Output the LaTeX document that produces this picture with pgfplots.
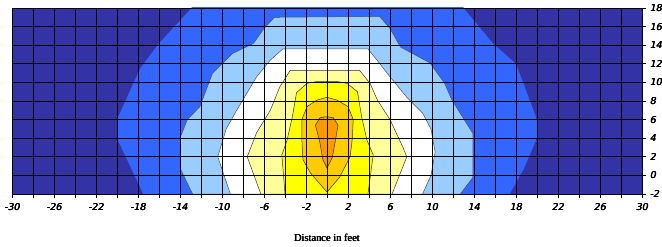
\documentclass[border=0pt]{standalone}
\usepackage{fontspec}
\usepackage{pgfplots}
\pgfplotsset{compat=1.18}
\newfontfamily\tickfont{DejaVu Sans}[FakeSlant=0.2]
\newfontfamily\titlefont{Liberation Serif}
\newcommand\fb[1]{\leavevmode\rlap{#1}\rlap{\kern0.25pt#1}\hbox{\kern0.5pt#1}}
\definecolor{navy}{RGB}{51,51,166}
\definecolor{cblue}{RGB}{51,102,255}
\definecolor{lblue}{RGB}{153,204,255}
\definecolor{lyel}{RGB}{255,255,153}
\definecolor{cyel}{RGB}{255,255,0}
\definecolor{gold}{RGB}{255,204,0}
\definecolor{corange}{RGB}{255,153,0}
\begin{document}
\begin{tikzpicture}
\begin{axis}[
  at={(0,0)}, anchor=south west,
  scale only axis, width=630bp, height=186bp,
  xmin=-30, xmax=30, ymin=-2, ymax=18,
  enlargelimits=false,
  axis on top,
  axis background/.style={fill=navy},
  xtick={-30,-26,...,30},
  xticklabels={\fb{-30},\fb{-26},\fb{-22},\fb{-18},\fb{-14},\fb{-10},\fb{-6},\fb{-2},\fb{2},\fb{6},\fb{10},\fb{14},\fb{18},\fb{22},\fb{26},\fb{30}},
  minor xtick={-28,-24,...,28},
  ytick={-2,0,...,18},
  yticklabels={\fb{-2},\fb{0},\fb{2},\fb{4},\fb{6},\fb{8},\fb{10},\fb{12},\fb{14},\fb{16},\fb{18}},
  xtick pos=bottom, ytick pos=right,
  yticklabel pos=right,
  tick align=outside,
  major tick length=4bp, minor tick length=4bp,
  every tick/.style={black, line width=0.8pt},
  grid=both,
  major grid style={black, line width=0.7pt},
  minor grid style={black, line width=0.7pt},
  axis line style={black, line width=0.8pt},
  tick label style={font=\tickfont\fontsize{9.5}{10}\selectfont},
  xticklabel style={yshift=-2bp},
  yticklabel style={xshift=0bp},
  xlabel={\fb{Distance in feet}},
  xlabel style={at={(axis description cs:0.5,0)}, anchor=center, yshift=-44bp, font=\titlefont\fontsize{10.5}{12}\selectfont},
]
% blue region
\addplot[fill=cblue, draw=none] coordinates {
(-12.9,18.5) (-12.9,18) (-16,14.2) (-17.8,11.5) (-20,6) (-20,4) (-17.5,-2) (-17.5,-2.5)
(17.4,-2.5) (17.4,-2) (18.7,0.6) (20,4) (20,6) (18,12) (15.8,14.2) (13,18) (13,18.5)} -- cycle;
% light blue
\addplot[fill=lblue, draw=black!70, line width=0.5pt] coordinates {
(-12.8,-2) (-14,0.8) (-14,4) (-13.3,6) (-12.1,7.4) (-10.9,11) (-9,13.1) (-7,14.2) (-6,15.8) (-5,17)
(5,17.1) (6,15.8) (7,13.8) (9.8,12.1) (11.2,9.9) (11.9,8.1) (13.9,4.5) (13.9,-0.2) (12.7,-2)} -- cycle;
% white
\addplot[fill=white, draw=black!70, line width=0.5pt] coordinates {
(-9.2,-2) (-10.4,2) (-9.6,5) (-8.6,7) (-7.6,8.9) (-6.7,10.6) (-5.4,12.4) (-4.2,13.6)
(3.9,13.6) (4.9,12.2) (6,10.6) (7.6,8.4) (9.1,6.7) (9.9,5) (10.3,2.5) (9.9,0) (9.1,-2)} -- cycle;
% light yellow
\addplot[fill=lyel, draw=black!80, line width=0.5pt] coordinates {
(-6.3,-2) (-7.6,2) (-6.7,4.6) (-5.4,7) (-4.5,9.5) (-3.5,11.3)
(3.1,11.3) (4.1,9.9) (4.8,8.1) (6,6) (7.2,3.1) (7.6,2) (6.2,-2)} -- cycle;
% yellow
\addplot[fill=cyel, draw=black!80, line width=0.5pt] coordinates {
(-4,-2) (-4.3,2.2) (-3.8,3.8) (-3.3,6.3) (-2.9,8.9) (-1.9,9.9) (-0.95,10.1)
(0.95,10.1) (1.9,9.9) (2.9,9) (3.3,6.3) (3.8,3.8) (4.4,2.2) (3.9,-2)} -- cycle;
% gold
\addplot[fill=gold, draw=black!80, line width=0.5pt] coordinates {
(0,-1.8) (-1.6,0.3) (-2.3,1.7) (-2.4,4) (-2.4,6) (-1.9,7.4) (-0.95,8.1) (0,8.4)
(0.95,8.1) (2,7.4) (2.5,6) (2.4,3.8) (2.2,2) (1.2,-0.2)} -- cycle;
% orange
\addplot[fill=corange, draw=black!80, line width=0.5pt] coordinates {
(0,0.8) (-0.4,1.7) (-0.67,3.5) (-1.1,5.4) (-0.67,6.2) (-0.2,6.3)
(0.1,6.3) (0.6,6.2) (1.05,5.4) (0.76,3.5) (0.5,1.9)} -- cycle;
\end{axis}
\pgfresetboundingbox
\path[use as bounding box] (-12bp,-53bp) rectangle (650bp,194bp);
\end{tikzpicture}
\end{document}
